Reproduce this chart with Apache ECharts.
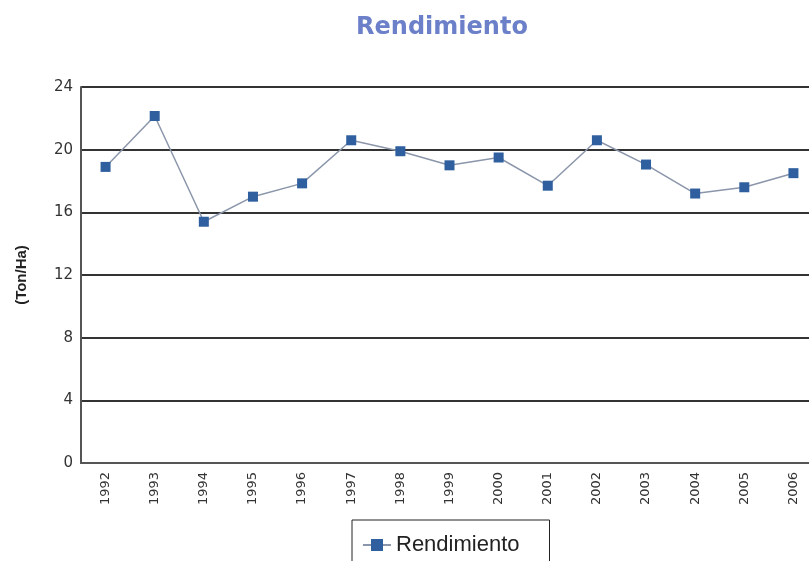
<!DOCTYPE html>
<html>
<head>
<meta charset="utf-8">
<script src="https://cdn.jsdelivr.net/npm/echarts@6/dist/echarts.min.js"></script>
<style>
  html, body { margin: 0; padding: 0; background: #fff; overflow: hidden; }
  #main { width: 840px; height: 561px; }
</style>
</head>
<body>
<div id="main"></div>
<script>
  // datos
  var years = ['1992','1993','1994','1995','1996','1997','1998','1999','2000','2001','2002','2003','2004','2005','2006'];
  var rendimiento = [18.9, 22.15, 15.4, 17.0, 17.85, 20.6, 19.9, 19.0, 19.5, 17.7, 20.6, 19.05, 17.2, 17.6, 18.5];
  var yTicks = [0, 4, 8, 12, 16, 20, 24];

  var chart = echarts.init(document.getElementById('main'));
  var option = {
    animation: false,
    title: {
      text: 'Rendimiento',
      left: 437,
      textAlign: 'center',
      top: 11,
      textStyle: { color: '#6b80c9', fontSize: 24, fontWeight: 'bold', fontFamily: 'DejaVu Sans' }
    },
    legend: {
      data: ['Rendimiento'],
      left: 352,
      top: 520,
      padding: [14, 30, 30, 10],
      borderColor: '#222',
      borderWidth: 1,
      itemWidth: 28,
      itemHeight: 15,
      itemStyle: { borderWidth: 0 },
      textStyle: { fontSize: 22, color: '#222', fontFamily: 'Liberation Sans' }
    },
    grid: {
      left: 81,
      top: 87,
      width: 737,
      height: 376
    },
    xAxis: {
      type: 'category',
      data: years,
      boundaryGap: true,
      axisLine: { lineStyle: { color: '#555', width: 2 } },
      axisTick: { show: false },
      axisLabel: { rotate: 90, fontSize: 13, color: '#333', margin: 9, fontFamily: 'DejaVu Sans' }
    },
    yAxis: {
      type: 'value',
      min: yTicks[0],
      max: yTicks[yTicks.length - 1],
      interval: 4,
      name: '(Ton/Ha)',
      nameLocation: 'middle',
      nameRotate: 90,
      nameGap: 52,
      nameTextStyle: { fontSize: 15, fontWeight: 'bold', color: '#222', fontFamily: 'Liberation Sans' },
      axisLine: { show: true, lineStyle: { color: '#555', width: 2 } },
      axisTick: { show: false },
      axisLabel: { fontSize: 15, color: '#333', margin: 8, fontFamily: 'DejaVu Sans' },
      splitLine: { show: true, lineStyle: { color: '#333', width: 2 } }
    },
    series: [{
      name: 'Rendimiento',
      type: 'line',
      data: rendimiento,
      symbol: 'rect',
      symbolSize: 10,
      lineStyle: { color: '#8b96aa', width: 1.5 },
      itemStyle: { color: '#2f5f9f' }
    }]
  };
  chart.setOption(option);
</script>
</body>
</html>
